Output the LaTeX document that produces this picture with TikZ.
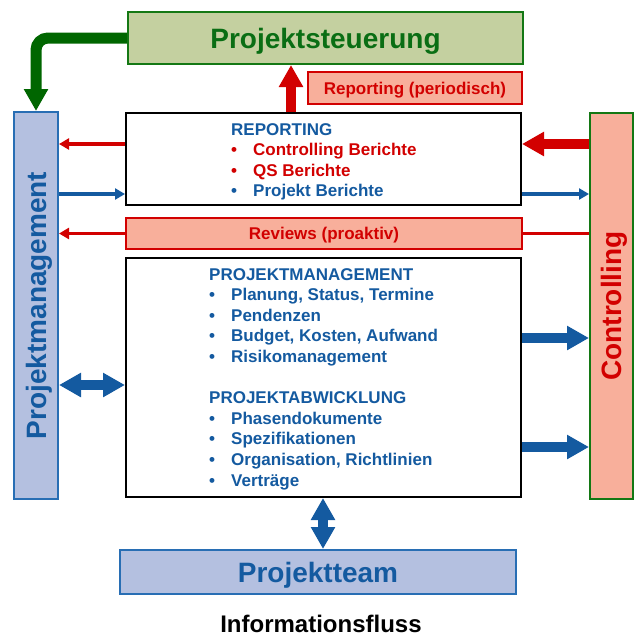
\documentclass[tikz,border=0pt]{standalone}
\usepackage{fontspec}
\setmainfont{Liberation Sans}
\usetikzlibrary{arrows.meta,calc}
\definecolor{tblue}{RGB}{20,90,160}
\definecolor{bborder}{RGB}{40,110,180}
\definecolor{bfill}{RGB}{180,192,224}
\definecolor{salmon}{RGB}{248,175,155}
\definecolor{tred}{RGB}{210,0,0}
\definecolor{gborder}{RGB}{20,120,20}
\definecolor{gfill}{RGB}{196,208,160}
\definecolor{gtext}{RGB}{10,110,20}
\definecolor{garrow}{RGB}{0,102,0}
\newcommand{\nodepth}[1]{\raisebox{0pt}[\height][0pt]{#1}}
\begin{document}
\begin{tikzpicture}[x=1pt,y=-1pt,
  box/.style={draw, line width=2pt, inner sep=0pt, font=\bfseries, text depth=0pt},
  bigfont/.style={font=\bfseries\fontsize{28}{32}\selectfont},
  midfont/.style={font=\bfseries\fontsize{17}{20.6}\selectfont},
  rthin/.style={draw=tred, line width=3.5pt, -{Triangle[width=11pt,length=10pt]}},
  bthin/.style={draw=tblue, line width=3.5pt, -{Triangle[width=11pt,length=10pt]}},
  rline/.style={draw=tred, line width=3.5pt},
  rthick/.style={draw=tred, fill=tred, line width=10pt, -{Triangle[width=23pt,length=22pt]}},
  bthick/.style={draw=tblue, fill=tblue, line width=10pt, -{Triangle[width=23pt,length=22pt]}},
  bdouble/.style={draw=tblue, fill=tblue, line width=10pt, {Triangle[width=23pt,length=22pt]}-{Triangle[width=23pt,length=22pt]}},
  garr/.style={draw=garrow, line width=11pt, rounded corners=12pt, -{Triangle[width=23pt,length=22pt]}}
]
\useasboundingbox (0,0) rectangle (635,637);

% boxes
\node[box, draw=gborder, fill=gfill, minimum width=395pt, minimum height=52pt, bigfont, text=gtext] (ps) at (325.5,38) {Projektsteuerung};
\node[box, draw=tred, fill=salmon, minimum width=214pt, minimum height=32pt, midfont, text=tred] (rp) at (415,88) {Reporting (periodisch)};
\node[box, draw=black, fill=white, minimum width=395pt, minimum height=92pt] (rep) at (323.5,159) {};
\node[box, draw=tred, fill=salmon, minimum width=396pt, minimum height=31pt, midfont, text=tred] (rev) at (324,233.5) {Reviews (proaktiv)};
\node[box, draw=black, fill=white, minimum width=395pt, minimum height=239pt] (big) at (323.5,377.5) {};
\node[box, draw=bborder, fill=bfill, minimum width=44pt, minimum height=387pt, bigfont, text=tblue] (pm) at (36,305.5) {\rotatebox{90}{\nodepth{Projektmanagement}}};
\node[box, draw=gborder, fill=salmon, minimum width=43pt, minimum height=386pt, bigfont, text=tred] (ctrl) at (611.5,306) {\rotatebox{90}{\nodepth{Controlling}}};
\node[box, draw=bborder, fill=bfill, minimum width=396pt, minimum height=44pt, bigfont, text=tblue] (team) at (318,572) {Projektteam};
\node[font=\bfseries\fontsize{24}{28}\selectfont, text=black, inner sep=0pt] (info) at (321,624) {Informationsfluss};

% texts inside
\node[anchor=north west, inner sep=0pt, align=left, midfont, text=tblue] (reptext) at (231,123)
 {REPORTING\\
  \textcolor{tred}{\makebox[22pt][l]{•}Controlling Berichte}\\
  \textcolor{tred}{\makebox[22pt][l]{•}QS Berichte}\\
  \makebox[22pt][l]{•}Projekt Berichte};
\node[anchor=north west, inner sep=0pt, align=left, midfont, text=tblue] (bigtext) at (209,268)
 {PROJEKTMANAGEMENT\\
  \makebox[22pt][l]{•}Planung, Status, Termine\\
  \makebox[22pt][l]{•}Pendenzen\\
  \makebox[22pt][l]{•}Budget, Kosten, Aufwand\\
  \makebox[22pt][l]{•}Risikomanagement\\[20.6pt]
  PROJEKTABWICKLUNG\\
  \makebox[22pt][l]{•}Phasendokumente\\
  \makebox[22pt][l]{•}Spezifikationen\\
  \makebox[22pt][l]{•}Organisation, Richtlinien\\
  \makebox[22pt][l]{•}Verträge};

% connectors
\draw[garr] (ps.west) -| (pm.north);
\coordinate (up) at ($(rep.north west)+(166,0)$);
\draw[rthick] (up) -- (up |- ps.south);
\coordinate (r1) at ($(rep.north west)+(0,32)$);
\draw[rthin] (r1) -- (r1 -| pm.east);
\coordinate (b1) at ($(rep.south west)+(0,-12)$);
\draw[bthin] (b1 -| pm.east) -- (b1);
\coordinate (r2) at ($(rep.north east)+(0,32)$);
\draw[rthick] (r2 -| ctrl.west) -- (r2);
\coordinate (b2) at ($(rep.south east)+(0,-12)$);
\draw[bthin] (b2) -- (b2 -| ctrl.west);
\draw[rthin] (rev.west) -- (rev.west -| pm.east);
\draw[rline] (rev.east) -- (rev.east -| ctrl.west);
\coordinate (d1) at ($(big.north west)+(0,128)$);
\draw[bdouble] (d1 -| pm.east) -- (d1);
\coordinate (c1) at ($(big.north east)+(0,81)$);
\coordinate (c2) at ($(big.north east)+(0,190)$);
\draw[bthick] (c1) -- (c1 -| ctrl.west);
\draw[bthick] (c2) -- (c2 -| ctrl.west);
\coordinate (v) at ($(big.south west)+(198,0)$);
\draw[bdouble] (v) -- (v |- team.north);
\end{tikzpicture}
\end{document}
